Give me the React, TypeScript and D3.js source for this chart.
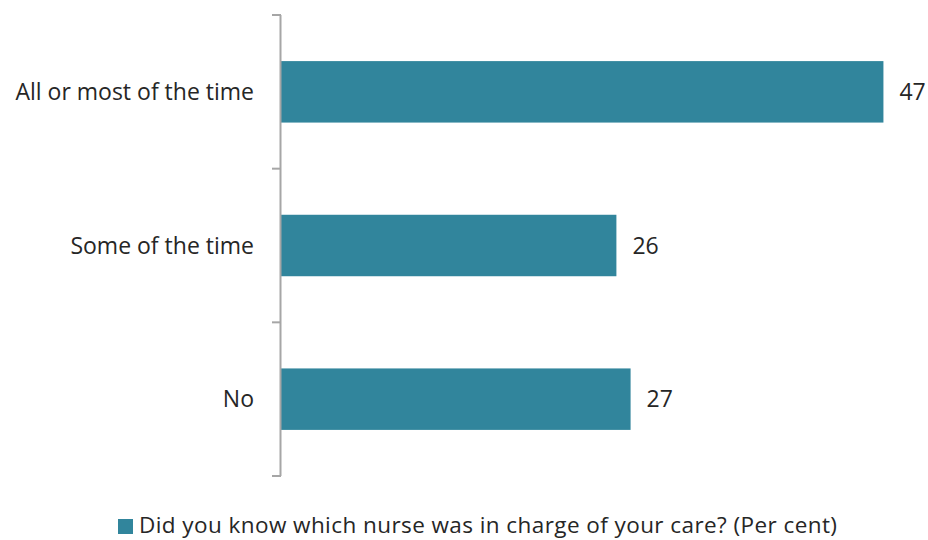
import React from "react";
import * as d3 from "d3";

const categories = ["All or most of the time", "Some of the time", "No"];
const values = [46.7, 26.0, 27.1];
const valueLabels = ["47", "26", "27"];
const legendLabel = "Did you know which nurse was in charge of your care? (Per cent)";

const W = 928;
const H = 540;
const BAR = "#31859c";
const AXIS = "#a6a6a6";
const TEXT = "#262626";
const FONT = "'Open Sans', Lato, sans-serif";
const FS = 23;

export default function App() {
  const x = d3.scaleLinear().domain([0, 50]).range([281, 281 + 12.9 * 50]);
  const y = d3.scaleBand<string>().domain(categories).range([15, 476]).paddingInner(0.6).paddingOuter(0.3);
  const tickYs = d3.range(categories.length + 1).map((i) => 15 + i * ((476 - 15) / categories.length));

  return (
    <svg width={W} height={H} style={{ position: "absolute", left: 0, top: 0, background: "#fff" }} fontFamily={FONT}>
      {categories.map((c, i) => (
        <g key={c}>
          <rect x={x(0)} y={y(c)!} width={x(values[i]) - x(0)} height={y.bandwidth()} fill={BAR} />
          <text x={x(values[i]) + 16} y={y(c)! + y.bandwidth() / 2} dy="0.35em" fontSize={FS} fill={TEXT}>
            {valueLabels[i]}
          </text>
          <text x={254} y={y(c)! + y.bandwidth() / 2} dy="0.35em" fontSize={FS} fill={TEXT} textAnchor="end">
            {c}
          </text>
        </g>
      ))}
      <line x1={280.5} x2={280.5} y1={15} y2={476} stroke={AXIS} strokeWidth={2} />
      {tickYs.map((t, i) => (
        <line key={i} x1={272} x2={281} y1={t} y2={t} stroke={AXIS} strokeWidth={2} />
      ))}
      <rect x={118} y={519} width={15} height={15} fill={BAR} />
      <text x={139} y={533} fontSize={22.5} fill={TEXT} textLength={698} lengthAdjust="spacing">
        {legendLabel}
      </text>
    </svg>
  );
}
